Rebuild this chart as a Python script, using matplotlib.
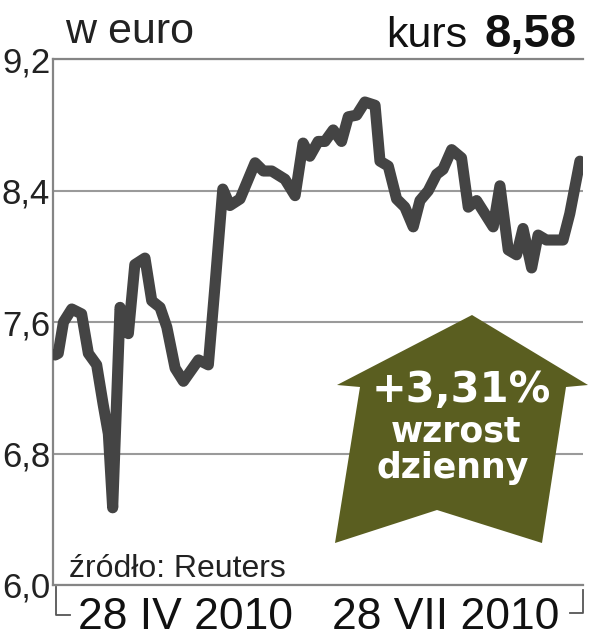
import matplotlib
matplotlib.use("Agg")
import matplotlib.pyplot as plt
import matplotlib.font_manager as fm
from matplotlib.patches import Polygon
from matplotlib.lines import Line2D

# trading days since chart start (approx.) and closing price in euro
days = [0.6, 1.6, 3.3, 6.0, 9.2, 11.4, 14.1, 16.2, 17.9, 19.3,
        21.7, 24.4, 26.5, 29.8, 32.0, 34.7, 36.9, 39.6, 42.3, 47.2,
        50.4, 52.6, 55.1, 57.4, 60.7, 65.6, 68.3, 71.0, 75.3, 78.6,
        81.2, 83.4, 86.1, 88.3, 91.0, 93.7, 95.9, 98.6, 101.3, 104.6,
        106.2, 108.9, 111.6, 114.3, 117.0, 119.2, 121.9, 124.6, 126.7, 129.5,
        132.7, 134.9, 137.6, 140.3, 143.0, 145.2, 147.9, 150.6, 152.7, 155.5,
        157.6, 160.3, 165.7, 167.9, 171.2]
prices = [7.40, 7.41, 7.60, 7.68, 7.65, 7.41, 7.34, 7.10, 6.92, 6.47,
          7.69, 7.53, 7.95, 7.99, 7.73, 7.69, 7.57, 7.32, 7.24, 7.37,
          7.34, 7.83, 8.41, 8.31, 8.35, 8.57, 8.52, 8.52, 8.47, 8.37,
          8.69, 8.61, 8.70, 8.70, 8.77, 8.70, 8.85, 8.86, 8.94, 8.92,
          8.58, 8.55, 8.35, 8.30, 8.18, 8.34, 8.40, 8.50, 8.53, 8.65,
          8.60, 8.30, 8.34, 8.26, 8.18, 8.43, 8.04, 8.01, 8.17, 7.93,
          8.13, 8.10, 8.10, 8.26, 8.58]

yticks = [6.0, 6.8, 7.6, 8.4, 9.2]
ytick_labels = ["6,0", "6,8", "7,6", "8,4", "9,2"]
date_labels = ["28 IV 2010", "28 VII 2010"]
last_price = "8,58"
change = "+3,31%"

names = {f.name for f in fm.fontManager.ttflist}
narrow = "Liberation Sans Narrow" if "Liberation Sans Narrow" in names else "Liberation Sans"
regular = "Liberation Sans"
bold_font = "DejaVu Sans"

W, H = 589, 640
fx = lambda x: x / W
fy = lambda y: 1 - y / H

fig = plt.figure(figsize=(W / 100, H / 100), dpi=100)
ax = fig.add_axes([fx(53.3), fy(585), (583 - 53.3) / W, (585 - 59.3) / H])

ax.plot(days, prices, color="#444444", lw=8, solid_capstyle="round",
        solid_joinstyle="round", zorder=3)
ax.set_xlim(0, 172.2)
ax.set_ylim(6.0, 9.2)

ax.set_yticks(yticks)
ax.set_yticklabels(ytick_labels, family=narrow, fontsize=25, color="#222222", ha="left")
ax.tick_params(axis="y", length=0, pad=37)
ax.set_xticks([])
ax.yaxis.grid(True, color="#9a9a9a", lw=1.5)
ax.set_axisbelow(True)

for s in ["top", "bottom", "left"]:
    ax.spines[s].set_color("#858585")
    ax.spines[s].set_linewidth(1.6)
ax.spines["right"].set_visible(False)

# growth arrow
arrow_px = [(472, 315), (588, 385), (566, 387), (542, 543), (437, 510),
            (335, 543), (360, 387), (337, 385)]
arrow_ax = [((x - 53.3) / 529.7, (585 - y) / 525.7) for x, y in arrow_px]
ax.add_patch(Polygon(arrow_ax, closed=True, transform=ax.transAxes,
                     facecolor="#5a5e20", edgecolor="none", clip_on=False, zorder=4))

fig.text(fx(461), fy(402), change, family=bold_font, weight="bold", fontsize=30,
         color="white", ha="center", va="baseline", zorder=5)
fig.text(fx(456), fy(442), "wzrost", family=bold_font, weight="bold", fontsize=25,
         color="white", ha="center", va="baseline", zorder=5)
fig.text(fx(453), fy(478), "dzienny", family=bold_font, weight="bold", fontsize=25,
         color="white", ha="center", va="baseline", zorder=5)

# header
fig.text(fx(65), fy(43), "w euro", family=narrow, fontsize=31, color="#222222",
         va="baseline")
fig.text(fx(577), fy(47), last_price, family=regular, weight="bold", fontsize=34,
         color="#111111", ha="right", va="baseline")
fig.text(fx(467), fy(47), "kurs", family=regular, fontsize=31, color="#111111",
         ha="right", va="baseline")

fig.text(fx(69), fy(577), "źródło: Reuters", family=regular, fontsize=23,
         color="#222222", va="baseline")

# date labels with bracket
fig.text(fx(78), fy(629), date_labels[0], family=regular, fontsize=32,
         color="#111111", va="baseline")
fig.text(fx(559), fy(629), date_labels[1], family=regular, fontsize=32,
         color="#111111", ha="right", va="baseline")
fig.add_artist(Line2D([fx(56), fx(56), fx(70)], [fy(587), fy(615), fy(615)],
                      color="#555555", lw=1.3))
fig.add_artist(Line2D([fx(570), fx(583), fx(583)], [fy(613), fy(613), fy(590)],
                      color="#555555", lw=1.3))

fig.savefig("out.png", dpi=100)
